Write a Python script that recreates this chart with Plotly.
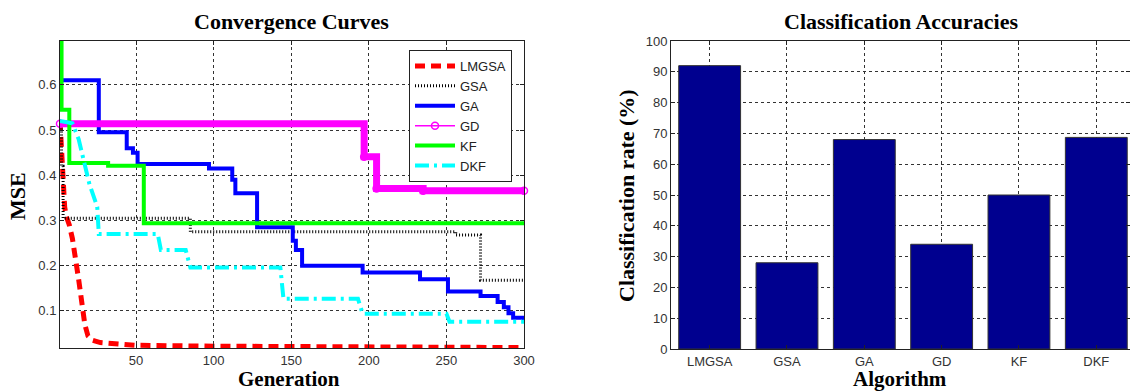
import plotly.graph_objects as go

# ---------------- data ----------------
lmgsa_gen = [1, 2, 3, 4, 5, 7, 9, 11, 13, 15, 17, 19, 22, 27, 35, 50, 100, 150, 200, 250, 300]
lmgsa_mse = [0.52, 0.45, 0.38, 0.33, 0.31, 0.29, 0.26, 0.22, 0.17, 0.12, 0.07, 0.045, 0.035, 0.03,
             0.027, 0.024, 0.022, 0.021, 0.020, 0.019, 0.019]

gsa_gen = [1, 2, 3, 85, 256, 272, 300]
gsa_mse = [0.52, 0.42, 0.305, 0.275, 0.268, 0.168, 0.168]

ga_gen = [1, 26, 44, 48, 51, 97, 112, 114, 128, 151, 153, 157, 196, 233, 251, 272, 283, 287, 290, 293, 300]
ga_mse = [0.61, 0.495, 0.46, 0.45, 0.425, 0.415, 0.39, 0.36, 0.285, 0.255, 0.235, 0.2, 0.185, 0.17,
          0.143, 0.133, 0.12, 0.108, 0.095, 0.085, 0.078]

gd_gen = [1, 197, 205, 235, 300]
gd_mse = [0.514, 0.441, 0.371, 0.366, 0.366]

kf_gen = [1, 2, 7, 32, 55, 300]
kf_mse = [0.70, 0.545, 0.427, 0.421, 0.294, 0.294]

dkf_gen = [1, 9, 13, 20, 25, 26, 64, 66, 82, 85, 143, 145, 193, 196, 250, 252, 300]
dkf_mse = [0.52, 0.515, 0.48, 0.38, 0.33, 0.27, 0.27, 0.235, 0.235, 0.196, 0.196, 0.127, 0.127,
           0.094, 0.094, 0.076, 0.076]

algorithms = ["LMGSA", "GSA", "GA", "GD", "KF", "DKF"]
accuracy = [92, 28, 68, 34, 50, 68.7]

mse_ticks = [0.1, 0.2, 0.3, 0.4, 0.5, 0.6]
gen_ticks = [50, 100, 150, 200, 250, 300]
acc_ticks = [0, 10, 20, 30, 40, 50, 60, 70, 80, 90, 100]

# ---------------- layout helpers ----------------
W, H = 1130, 392
def fx(p):
    return p / W
def fy(p):
    return 1 - p / H

SERIF = "Liberation Serif, Times New Roman, serif"
SANS = "Liberation Sans, Arial, sans-serif"

fig = go.Figure()

fig.add_trace(go.Scatter(x=lmgsa_gen, y=lmgsa_mse, name="LMGSA", mode="lines",
                         line=dict(color="#ff0000", width=5, dash="10px,6px")))
fig.add_trace(go.Scatter(x=gsa_gen, y=gsa_mse, name="GSA", mode="lines", line_shape="hv",
                         line=dict(color="#000000", width=3, dash="1px,2px")))
fig.add_trace(go.Scatter(x=ga_gen, y=ga_mse, name="GA", mode="lines", line_shape="hv",
                         line=dict(color="#0000ff", width=4)))
# thick underlay for GD (dense markers in original)
fig.add_trace(go.Scatter(x=gd_gen, y=gd_mse, name="GD", mode="lines", line_shape="hv",
                         showlegend=False, legendgroup="gd",
                         line=dict(color="#ff00ff", width=7)))
fig.add_trace(go.Scatter(x=gd_gen, y=gd_mse, name="GD", mode="lines+markers", line_shape="hv",
                         legendgroup="gd", cliponaxis=False,
                         line=dict(color="#ff00ff", width=1.5),
                         marker=dict(symbol="circle-open", size=7, color="#ff00ff", line=dict(width=1.5))))
fig.add_trace(go.Scatter(x=kf_gen, y=kf_mse, name="KF", mode="lines", line_shape="hv",
                         line=dict(color="#00ff00", width=4)))
fig.add_trace(go.Scatter(x=dkf_gen, y=dkf_mse, name="DKF", mode="lines",
                         line=dict(color="#00ffff", width=4, dash="14px,5px,3px,5px")))

fig.add_trace(go.Bar(x=algorithms, y=accuracy, xaxis="x2", yaxis="y2", width=0.8, showlegend=False,
                     marker=dict(color="#00008f", line=dict(color="#333333", width=1))))

axis_common = dict(showline=True, linecolor="#222222", linewidth=1, mirror="ticks",
                   ticks="inside", ticklen=4, tickcolor="#222222", automargin=False,
                   showgrid=True, gridcolor="#333333", griddash="dot", gridwidth=1,
                   zeroline=False, tickfont=dict(family=SANS, size=13, color="#333333"))

fig.update_layout(
    width=W, height=H,
    margin=dict(l=0, r=0, t=0, b=0, autoexpand=False),
    paper_bgcolor="white", plot_bgcolor="white",
    xaxis=dict(domain=[fx(60), fx(524)], range=[1, 300], tickvals=gen_ticks, anchor="y", **axis_common),
    yaxis=dict(domain=[fy(348), fy(41)], range=[0.018, 0.697], tickvals=mse_ticks, anchor="x", **axis_common),
    xaxis2=dict(domain=[fx(671), 1.0], range=[-0.5, 5.436], type="category", anchor="y2", **axis_common),
    yaxis2=dict(domain=[fy(349), fy(41)], range=[0, 100], tickvals=acc_ticks, anchor="x2", **axis_common),
    legend=dict(x=fx(409), y=fy(50), xanchor="left", yanchor="top",
                bgcolor="white", bordercolor="#222222", borderwidth=1,
                font=dict(family=SANS, size=13, color="#222222"),
                itemwidth=40, tracegroupgap=0),
    showlegend=True,
    bargap=0.2,
)

title_font = dict(family=SERIF, size=22, color="black")
xtitle_font = dict(family=SERIF, size=21, color="black")
fig.add_annotation(text="<b>Convergence Curves</b>", x=fx(291), y=fy(21), xref="paper", yref="paper",
                   showarrow=False, font=title_font, xanchor="center", yanchor="middle")
fig.add_annotation(text="<b>Classification Accuracies</b>", x=fx(901), y=fy(21), xref="paper", yref="paper",
                   showarrow=False, font=title_font, xanchor="center", yanchor="middle")
fig.add_annotation(text="<b>Generation</b>", x=fx(289), y=fy(379), xref="paper", yref="paper",
                   showarrow=False, font=xtitle_font, xanchor="center", yanchor="middle")
fig.add_annotation(text="<b>Algorithm</b>", x=fx(900), y=fy(379), xref="paper", yref="paper",
                   showarrow=False, font=xtitle_font, xanchor="center", yanchor="middle")
fig.add_annotation(text="<b>MSE</b>", x=fx(17), y=fy(196), xref="paper", yref="paper",
                   showarrow=False, font=title_font, textangle=-90, xanchor="center", yanchor="middle")
fig.add_annotation(text="<b>Classification rate (%)</b>", x=fx(626), y=fy(196), xref="paper", yref="paper",
                   showarrow=False, font=title_font, textangle=-90, xanchor="center", yanchor="middle")

fig.write_html("out.html")
